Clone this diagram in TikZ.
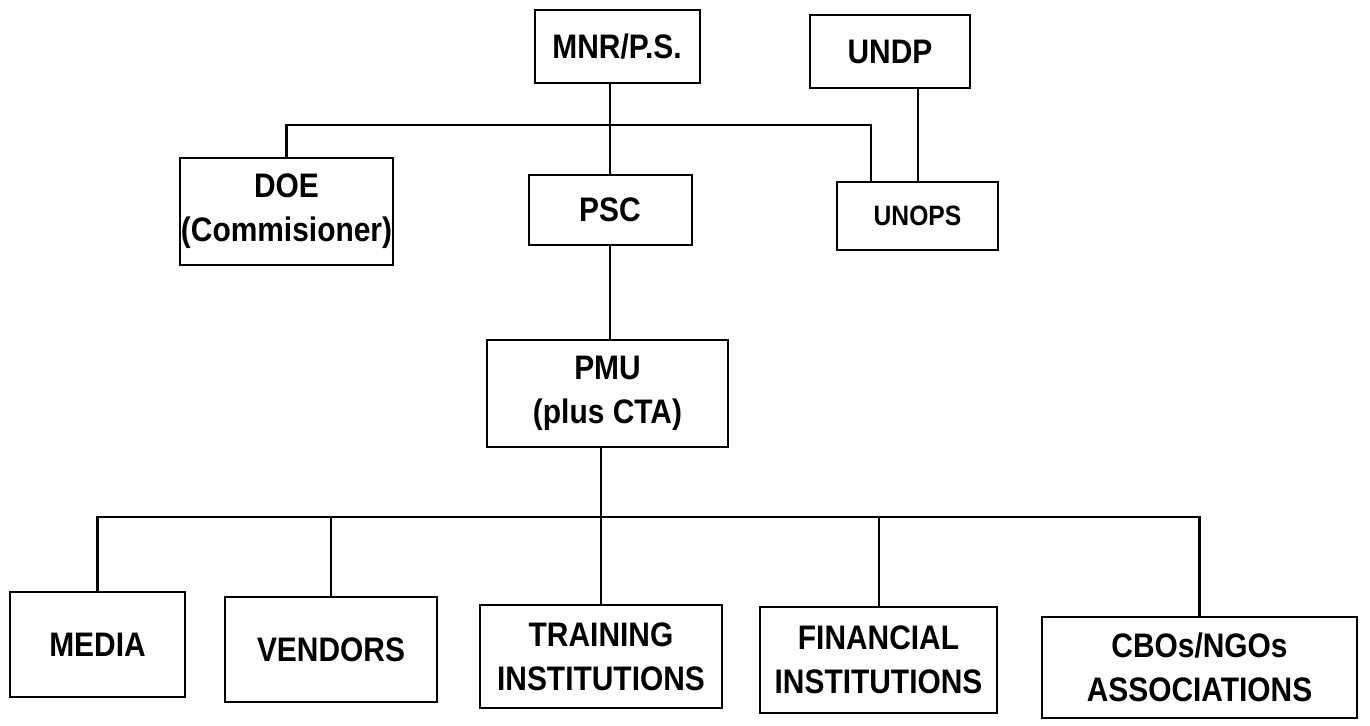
\documentclass[tikz,border=0pt]{standalone}
\usepackage{fontspec}
\setmainfont{Liberation Sans}[FakeStretch=0.88]

\tikzset{
  unit/.style={draw,line width=1pt,align=center,inner sep=0pt,
    font=\fontsize{17}{22}\selectfont\bfseries},
  bus/.style={line width=1.3pt},
}

\begin{document}
\begin{tikzpicture}[x=0.5pt,y=-0.5pt,line width=1pt]
\useasboundingbox (0,0) rectangle (1370,725);
% top level
\node[unit,minimum width=82.5pt,minimum height=36.5pt](MNR) at (617,46.5) {MNR/P.S.};
\node[unit,minimum width=80pt,minimum height=36.5pt](UNDP) at (890,51.5) {UNDP};
\node[unit,minimum width=106.5pt,minimum height=53.5pt](DOE) at (286.5,211.5) {DOE\\(Commisioner)};
\node[unit,minimum width=81.5pt,minimum height=35pt](PSC) at (610,210) {PSC};
\node[unit,minimum width=80.5pt,minimum height=34pt,font=\fontsize{14}{18}\selectfont\bfseries](UNOPS) at (917.5,216) {UNOPS};
\node[unit,minimum width=120.5pt,minimum height=53.5pt](PMU) at (607.5,393.5) {PMU\\(plus CTA)};
% bottom row
\node[unit,minimum width=87.5pt,minimum height=52.5pt](MEDIA) at (97.5,644.5) {MEDIA};
\node[unit,minimum width=106pt,minimum height=52.5pt](VENDORS) at (331,649.5) {VENDORS};
\node[unit,minimum width=121pt,minimum height=51.5pt](TRAINING) at (601,656.5) {TRAINING\\INSTITUTIONS};
\node[unit,minimum width=118.5pt,minimum height=53pt](FINANCIAL) at (878.5,660) {FINANCIAL\\INSTITUTIONS};
\node[unit,minimum width=157.5pt,minimum height=50.5pt](CBOS) at (1199.5,667.5) {CBOs/NGOs\\ASSOCIATIONS};
\coordinate(topbus) at (610,125);
\coordinate(lowbus) at (601,517);
% connectors
\draw(MNR.south -| PSC) -- (PSC.north);
\draw[bus](DOE.north) |- (topbus) -| ([xshift=17.5pt]UNOPS.north west);
\draw(UNOPS.north) -- (UNOPS.north |- UNDP.south);
\draw(PSC.south) -- (PSC.south |- PMU.north);
\draw(PMU.south -| TRAINING) -- (TRAINING.north);
\draw[bus](MEDIA.north) |- (lowbus) -| (CBOS.north);
\draw(VENDORS.north) -- (VENDORS.north |- lowbus);
\draw(FINANCIAL.north) -- (FINANCIAL.north |- lowbus);
\end{tikzpicture}
\end{document}
